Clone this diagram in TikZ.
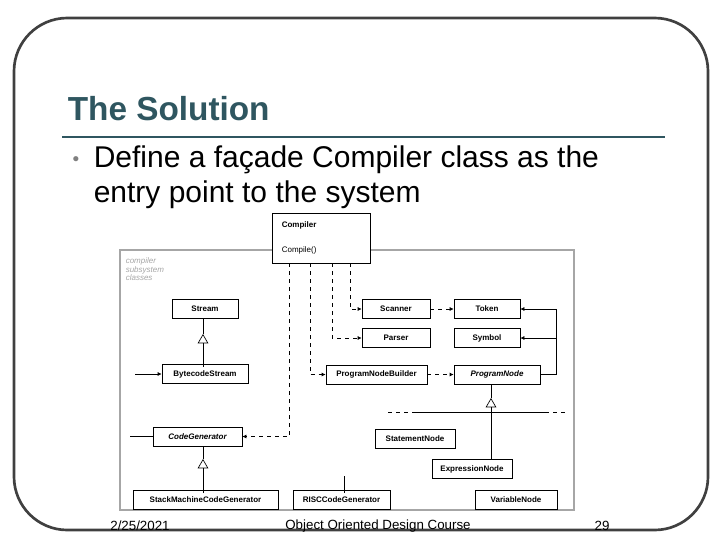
\documentclass[tikz,border=0pt]{standalone}
\usepackage{fontspec}
\setmainfont{Liberation Sans}
\usetikzlibrary{arrows.meta,positioning}
\definecolor{titleColor}{RGB}{47,86,96}
\tikzset{
	cls/.style={draw, fill=white, inner sep=0pt, minimum height=14pt, font=\fontsize{6}{7}\selectfont\bfseries},
	dep/.style={dashed, -{Latex[length=3pt,width=3pt]}},
	assoc/.style={-{Latex[length=3pt,width=3pt]}},
	inherit/.style={-{Triangle[open,length=7pt,width=8pt]}}
}
\begin{document}
\begin{tikzpicture}[x=0.75pt, y=-0.75pt, line width=0.5pt]

	\def\frameColor{black!75};
	\def\subColor{gray!70};

	\useasboundingbox (0,0) rectangle (720,540);

	% Slide frame
	\draw[\frameColor, line width=2pt, rounded corners=40] (14,18) rectangle (708,530);

	% Title
	\node[anchor=west, titleColor, font=\fontsize{25}{30}\selectfont\bfseries] (title) at (63,109) {The Solution};
	\draw[titleColor, line width=2.2pt] (62,137) -- (665,137);

	% Bullet text
	\node[gray, font=\fontsize{10}{12}\selectfont] (bullet) at (76,160) {$\bullet$};
	\node[anchor=west, align=left, font=\fontsize{22.5}{26.5}\selectfont] (text) at (89,177)
		{Define a façade Compiler class as the\\entry point to the system};

	% Subsystem box
	\draw[\subColor, line width=1pt] (120,250) rectangle (574,510);
	\node[anchor=north west, align=left, \subColor, font=\fontsize{6}{6.5}\selectfont\itshape] (sublabel) at (121,253)
		{compiler\\subsystem\\classes};

	% Classes
	\node[cls, fill=white, minimum width=73.5pt, minimum height=37.5pt] (compiler) at (321,238) {};
	\node[anchor=west, font=\fontsize{6}{7}\selectfont\bfseries] at (277,225) {Compiler};
	\node[anchor=west, font=\fontsize{6}{7}\selectfont] at (277,250) {Compile()};

	\node[cls, minimum width=49.5pt] (stream) at (205,309) {Stream};
	\node[cls, minimum width=64.5pt] (bytecode) at (205,374) {BytecodeStream};
	\node[cls, minimum width=51pt] (scanner) at (396,309) {Scanner};
	\node[cls, minimum width=49.5pt] (token) at (487,309) {Token};
	\node[cls, minimum width=51pt] (parser) at (396,338) {Parser};
	\node[cls, minimum width=49.5pt] (symbol) at (487,338) {Symbol};
	\node[cls, minimum width=75.75pt] (builder) at (376.5,374.5) {ProgramNodeBuilder};
	\node[cls, minimum width=64.5pt, font=\fontsize{6}{7}\selectfont\bfseries\itshape] (prognode) at (497,374.5) {ProgramNode};
	\node[cls, minimum width=60pt] (statement) at (415,439) {StatementNode};
	\node[cls, minimum width=60pt] (expression) at (472,469) {ExpressionNode};
	\node[cls, minimum width=66.75pt, font=\fontsize{6}{7}\selectfont\bfseries\itshape] (codegen) at (197.5,436.5) {CodeGenerator};
	\node[cls, minimum width=108.75pt] (stackgen) at (205.5,500) {StackMachineCodeGenerator};
	\node[cls, minimum width=72.75pt] (riscgen) at (341.5,500) {RISCCodeGenerator};
	\node[cls, minimum width=61.5pt] (variable) at (516,500) {VariableNode};

	% Compiler uses
	\draw[dep] (350,263) |- (scanner.west);
	\draw[dep] (332,263) |- (parser.west);
	\draw[dep] (310,263) |- (builder.west);
	\draw[dep] (289,263) |- (codegen.east);
	\draw[dep] (scanner) -- (token);
	\draw[dep] (builder) -- (prognode);

	% ProgramNode associations
	\coordinate (pnright) at (556,374.5);
	\draw (prognode.east) -- (pnright);
	\draw[assoc] (pnright) |- (token.east);
	\draw[assoc] (556,338) -- (symbol.east);

	% Inheritance
	\coordinate (streamtip) at (203,334);
	\coordinate (codegentip) at (203,459);
	\coordinate (prognodetip) at (491,398);
	\draw[inherit] (203,367) -- (streamtip);
	\draw (streamtip) -- (203,318);
	\draw[inherit] (203,493) -- (codegentip);
	\draw (codegentip) -- (203,446);
	\draw[inherit] (491,412) -- (prognodetip);
	\draw (prognodetip) -- (491,384);
	\draw[dashed] (388,412) -- (412,412) (545,412) -- (565,412);
	\draw (412,412) -- (545,412);
	\draw (491,412) -- (491,460);
	\draw (344,476) -- (344,493);

	% Outside links
	\draw[assoc] (135,374) -- (bytecode.west);
	\draw (130,436.5) -- (codegen.west);

	% Footer
	\node[font=\fontsize{10}{12}\selectfont] (date) at (140,526) {2/25/2021};
	\node[font=\fontsize{10}{12}\selectfont] (course) at (378,526) {Object Oriented Design Course};
	\node[font=\fontsize{10}{12}\selectfont] (page) at (602,526) {29};

\end{tikzpicture}
\end{document}
